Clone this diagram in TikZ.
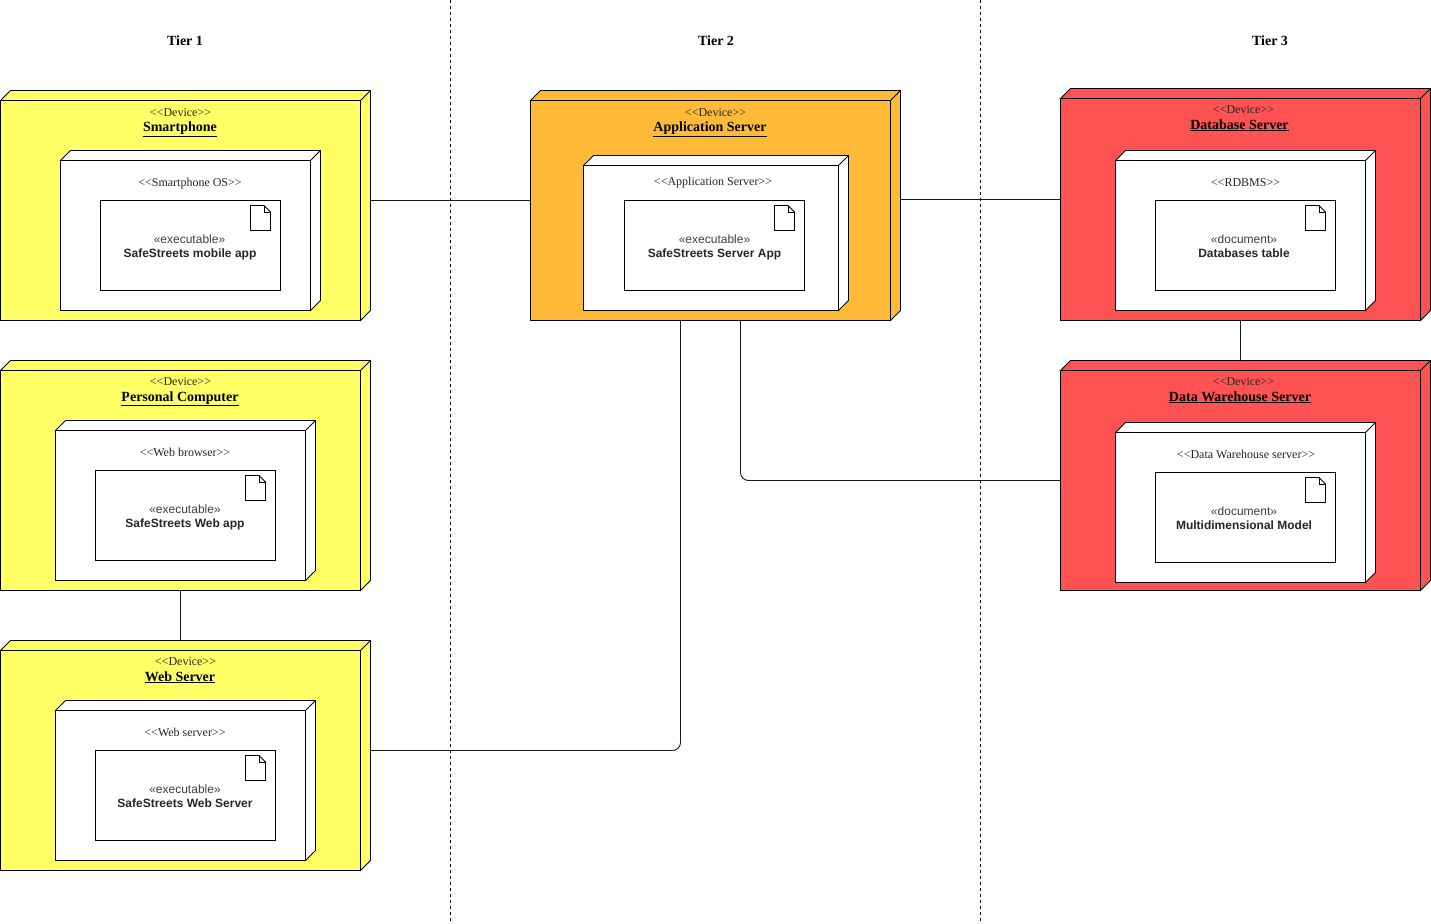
\documentclass[tikz,border=0pt]{standalone}
\usepackage{fontspec}
\setmainfont{Liberation Serif}
\newfontfamily\artfont{Liberation Sans}
\usetikzlibrary{fit}
\definecolor{devyellow}{HTML}{FFFF66}
\definecolor{devorange}{HTML}{FFBB38}
\definecolor{devred}{HTML}{FF5252}
\tikzset{
  edge/.style={draw=black,line width=0.9pt,line join=miter},
  wire/.style={draw=black!90,line width=0.9pt,rounded corners=8pt},
  tierline/.style={draw=black,line width=0.8pt,dash pattern=on 3pt off 3pt},
  hull/.style={inner sep=0pt,outer sep=0pt},
  tierlbl/.style={anchor=base,inner sep=0pt,font=\fontsize{14}{14}\selectfont\bfseries},
  stereo/.style={anchor=base,inner sep=0pt,font=\fontsize{12}{12}\selectfont,text=black!85},
  title/.style={anchor=base,inner sep=0pt,font=\fontsize{14}{14}\selectfont\bfseries},
  artlbl/.style={anchor=base,inner sep=0pt,font=\fontsize{12}{12}\selectfont\artfont,text=black!75},
  artname/.style={anchor=base,inner sep=0pt,font=\fontsize{12}{12}\selectfont\artfont\bfseries,text=black!85},
}
% name, x1, y1, x2, y2, fill
\newcommand{\cubebox}[6]{
  \draw[edge,fill=#6] (#2,#3) -- ({#2+10},{#3-10}) -- ({#4+10},{#3-10}) -- ({#4+10},{#5-10}) -- (#4,#5) -- (#4,#3) -- cycle;
  \draw[edge] (#4,#3) -- ({#4+10},{#3-10});
  \draw[edge,fill=#6] (#2,#3) rectangle (#4,#5);
  \coordinate (#1nw) at (#2,{#3-10});
  \coordinate (#1se) at ({#4+10},#5);
  \node[hull,fit=(#1nw)(#1se)] (#1) {};
}
% name, x1, y1, x2, y2
\newcommand{\artbox}[5]{
  \coordinate (#1nw) at (#2,#3);
  \coordinate (#1se) at (#4,#5);
  \node[hull,edge,fill=white,fit=(#1nw)(#1se)] (#1) {};
  \draw[edge,fill=white] ({#4-30},{#3+5}) -- ({#4-16.5},{#3+5}) -- ({#4-10},{#3+11.5}) -- ({#4-10},{#3+30}) -- ({#4-30},{#3+30}) -- cycle;
  \draw[edge] ({#4-16.5},{#3+5}) -- ({#4-16.5},{#3+11.5}) -- ({#4-10},{#3+11.5});
}
\begin{document}
\begin{tikzpicture}[x=1pt,y=-1pt]
\useasboundingbox (0,0) rectangle (1431,923);
\fill[white] (0,0) rectangle (1431,923);

\coordinate (d1a) at (450.5,0);
\coordinate (d1b) at (450.5,923);
\coordinate (d2a) at (980.5,0);
\coordinate (d2b) at (980.5,923);
\draw[tierline] (d1a) -- (d1b);
\draw[tierline] (d2a) -- (d2b);

\node[tierlbl] (t1) at (185,46) {Tier 1};
\node[tierlbl] (t2) at (716,46) {Tier 2};
\node[tierlbl] (t3) at (1270,46) {Tier 3};

% Smartphone
\cubebox{phone}{0.5}{100.5}{360.5}{320.5}{devyellow}
\cubebox{phoneos}{60.5}{160.5}{310.5}{310.5}{white}
\artbox{phoneapp}{100.5}{200.5}{280.5}{290.5}
\node[stereo] (l1) at (180.5,116.5) {<{}<Device>{}>};
\node[title] (l2) at (180,131.5) {\underline{Smartphone}};
\node[stereo] (l3) at (190,186) {<{}<Smartphone OS>{}>};
\node[artlbl] (l4) at (189.5,243) {«executable»};
\node[artname] (l5) at (190,257) {SafeStreets mobile app};

% Personal computer
\cubebox{pc}{0.5}{370.5}{360.5}{590.5}{devyellow}
\cubebox{pcos}{55.5}{430.5}{305.5}{580.5}{white}
\artbox{pcapp}{95.5}{470.5}{275.5}{560.5}
\node[stereo] (p1) at (180.5,385.5) {<{}<Device>{}>};
\node[title] (p2) at (180,401) {\underline{Personal Computer}};
\node[stereo] (p3) at (185,456) {<{}<Web browser>{}>};
\node[artlbl] (p4) at (185,513) {«executable»};
\node[artname] (p5) at (185,527) {SafeStreets Web app};

% Web server
\cubebox{web}{0.5}{650.5}{360.5}{870.5}{devyellow}
\cubebox{webos}{55.5}{710.5}{305.5}{860.5}{white}
\artbox{webapp}{95.5}{750.5}{275.5}{840.5}
\node[stereo] (w1) at (185.5,665.8) {<{}<Device>{}>};
\node[title] (w2) at (180,681) {\underline{Web Server}};
\node[stereo] (w3) at (185,736) {<{}<Web server>{}>};
\node[artlbl] (w4) at (185,793) {«executable»};
\node[artname] (w5) at (185,807) {SafeStreets Web Server};

% Application server
\cubebox{app}{530.5}{100.5}{890.5}{320.5}{devorange}
\cubebox{appos}{583.5}{165.5}{838.5}{310.5}{white}
\artbox{appapp}{624.5}{200.5}{804.5}{290.5}
\node[stereo] (a1) at (715.5,116.5) {<{}<Device>{}>};
\node[title] (a2) at (710,131.5) {\underline{Application Server}};
\node[stereo] (a3) at (713,185) {<{}<Application Server>{}>};
\node[artlbl] (a4) at (714.5,243) {«executable»};
\node[artname] (a5) at (714.5,257) {SafeStreets Server App};

% Database server
\cubebox{db}{1060.5}{98.5}{1420.5}{320.5}{devred}
\cubebox{dbos}{1115.5}{160.5}{1365.5}{310.5}{white}
\artbox{dbdoc}{1155.5}{200.5}{1335.5}{290.5}
\node[stereo] (b1) at (1243.5,113.5) {<{}<Device>{}>};
\node[title] (b2) at (1239.5,129) {\underline{Database Server}};
\node[stereo] (b3) at (1245.5,186) {<{}<RDBMS>{}>};
\node[artlbl] (b4) at (1244,243) {«document»};
\node[artname] (b5) at (1244,257) {Databases table};

% Data warehouse server
\cubebox{dw}{1060.5}{370.5}{1420.5}{590.5}{devred}
\cubebox{dwos}{1115.5}{432.5}{1365.5}{582.5}{white}
\artbox{dwdoc}{1155.5}{472.5}{1335.5}{562.5}
\node[stereo] (c1) at (1243.5,385.5) {<{}<Device>{}>};
\node[title] (c2) at (1240,401) {\underline{Data Warehouse Server}};
\node[stereo] (c3) at (1246,458) {<{}<Data Warehouse server>{}>};
\node[artlbl] (c4) at (1244,515) {«document»};
\node[artname] (c5) at (1244,529) {Multidimensional Model};

% connectors
\draw[wire] ([yshift=5pt]phone.east) -- ([yshift=5pt]app.west);
\draw[wire] ([yshift=6pt]app.east) -- ([yshift=5pt]db.west);
\draw[wire] ([xshift=-5pt]db.south) -- ([xshift=-5pt]dw.north);
\draw[wire] ([xshift=-5pt]pc.south) -- ([xshift=-5pt]web.north);
\draw[wire] ([yshift=5pt]web.east) -| ([xshift=-35pt]app.south);
\draw[wire] ([xshift=25pt]app.south) |- ([yshift=-5pt]dw.west);
\end{tikzpicture}
\end{document}
